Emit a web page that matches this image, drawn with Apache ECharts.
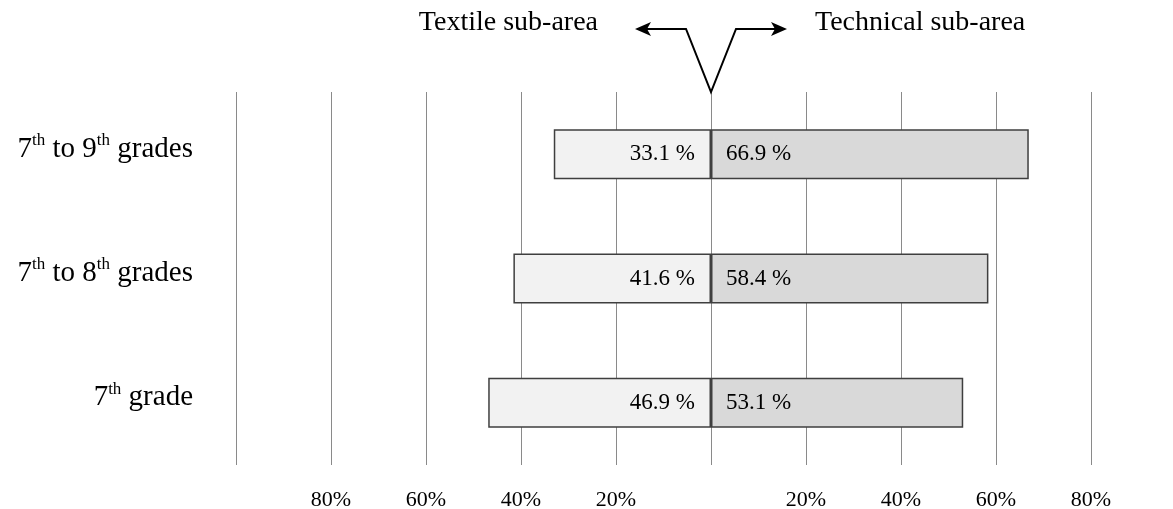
<!DOCTYPE html>
<html>
<head>
<meta charset="utf-8">
<script src="https://cdn.jsdelivr.net/npm/echarts@6/dist/echarts.min.js"></script>
<style>
html,body{margin:0;padding:0;background:#fff;}
#chart{width:1173px;height:509px;}
</style>
</head>
<body>
<div id="chart"></div>
<script>
const categories = ['7th to 9th grades', '7th to 8th grades', '7th grade'];
const categoryLabels = [
  '{n|7}{sup|th}{n| to 9}{sup|th}{n| grades}',
  '{n|7}{sup|th}{n| to 8}{sup|th}{n| grades}',
  '{n|7}{sup|th}{n| grade}'
];
const textile = [33.1, 41.6, 46.9];
const technical = [66.9, 58.4, 53.1];
const axisMin = -100, axisMax = 80, axisStep = 20;

const FONT = '"Liberation Serif", "Times New Roman", serif';
const chart = echarts.init(document.getElementById('chart'));

const option = {
  backgroundColor: '#ffffff',
  animation: false,
  grid: { left: 236, right: 82, top: 92, bottom: 44, containLabel: false, outerBoundsMode: 'none' },
  xAxis: {
    type: 'value',
    min: axisMin, max: axisMax, interval: axisStep,
    axisLine: { show: false },
    axisTick: { show: false },
    splitLine: { show: true, lineStyle: { color: '#8a8a8a', width: 1 } },
    axisLabel: {
      margin: 24,
      fontFamily: FONT, fontSize: 22, color: '#000',
      formatter: v => (v === 0 || v === axisMin) ? '' : Math.abs(v) + '%'
    }
  },
  yAxis: {
    type: 'category',
    inverse: true,
    data: categories,
    axisLine: { show: false },
    axisTick: { show: false },
    splitLine: { show: false },
    axisLabel: {
      margin: 43,
      formatter: v => categoryLabels[categories.indexOf(v)],
      padding: [0, 0, 10, 0],
      rich: {
        n: { fontFamily: FONT, fontSize: 29, color: '#000', lineHeight: 34 },
        sup: { fontFamily: FONT, fontSize: 17, color: '#000', verticalAlign: 'top', lineHeight: 22 }
      }
    }
  },
  series: [
    {
      name: 'Textile sub-area',
      type: 'bar',
      stack: 'total',
      barWidth: 50,
      data: textile.map(v => -v),
      itemStyle: { color: '#f2f2f2', borderColor: '#3f3f3f', borderWidth: 1.5 },
      label: {
        show: true, position: 'insideRight', distance: 16,
        fontFamily: FONT, fontSize: 23, color: '#000',
        formatter: p => textile[p.dataIndex].toFixed(1) + ' %'
      }
    },
    {
      name: 'Technical sub-area',
      type: 'bar',
      stack: 'total',
      barWidth: 50,
      data: technical,
      itemStyle: { color: '#d9d9d9', borderColor: '#3f3f3f', borderWidth: 1.5 },
      label: {
        show: true, position: 'insideLeft', distance: 15,
        fontFamily: FONT, fontSize: 23, color: '#000',
        formatter: p => technical[p.dataIndex].toFixed(1) + ' %'
      }
    }
  ]
};
chart.setOption(option);

// annotation: arrows and sub-area titles
const cx = chart.convertToPixel({ xAxisIndex: 0 }, 0);
const topY = chart.convertToPixel({ yAxisIndex: 0 }, categories[0]) - 62;
const armY = 29;
chart.setOption({
  graphic: [
    { type: 'polyline', shape: { points: [[cx - 68, armY], [cx - 25, armY], [cx, 92], [cx + 25, armY], [cx + 68, armY]] },
      style: { stroke: '#000', lineWidth: 2, fill: null } },
    { type: 'polygon', shape: { points: [[cx - 76, armY], [cx - 60, armY - 7], [cx - 64, armY], [cx - 60, armY + 7]] },
      style: { fill: '#000' } },
    { type: 'polygon', shape: { points: [[cx + 76, armY], [cx + 60, armY - 7], [cx + 64, armY], [cx + 60, armY + 7]] },
      style: { fill: '#000' } },
    { type: 'text', x: 598, y: 23,
      style: { text: 'Textile sub-area', font: '28px ' + FONT, fill: '#000', textAlign: 'right', textVerticalAlign: 'middle' } },
    { type: 'text', x: 815, y: 23,
      style: { text: 'Technical sub-area', font: '28px ' + FONT, fill: '#000', textAlign: 'left', textVerticalAlign: 'middle' } }
  ]
});
</script>
</body>
</html>
